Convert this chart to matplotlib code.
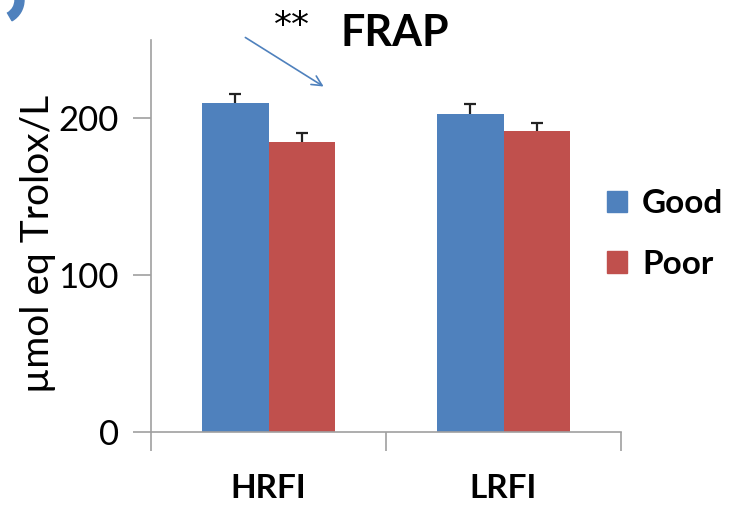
import matplotlib
matplotlib.use("Agg")
import matplotlib.pyplot as plt
from matplotlib.patches import Patch, Wedge
from matplotlib.transforms import IdentityTransform
import numpy as np

categories = ["HRFI", "LRFI"]
series_names = ["Good", "Poor"]
good_vals = [210, 203]
poor_vals = [185, 192]
good_err = [5.7, 6.0]
poor_err = [5.5, 5.0]
yticks = [0, 100, 200]

plt.rcParams['font.family'] = ['Lato', 'DejaVu Sans']

blue = "#4F81BD"
red = "#C0504D"

fig = plt.figure(figsize=(7.31, 5.05), dpi=100)
ax = fig.add_axes([151/731, 73/505, 470/731, 392/505])

x = np.arange(len(categories))
w = 0.285
ax.bar(x - w/2, good_vals, w, color=blue, zorder=2)
ax.bar(x + w/2, poor_vals, w, color=red, zorder=2)
for xs, vals, errs in [(x - w/2, good_vals, good_err), (x + w/2, poor_vals, poor_err)]:
    eb = ax.errorbar(xs, vals, yerr=[[0]*len(vals), errs], fmt='none', ecolor='#222222',
                     elinewidth=1.6, capsize=4, capthick=1.6, zorder=3)
    eb[1][0].set_visible(False)

ax.set_xlim(-0.5, 1.5)
ax.set_ylim(0, 250)
ax.set_yticks(yticks)
ax.set_yticklabels([str(v) for v in yticks], fontsize=25)
ax.set_xticks([-0.5, 0.5, 1.5])
ax.set_xticklabels([])
ax.set_xticks(x, minor=True)
ax.set_xticklabels(categories, minor=True, fontsize=24, fontweight='bold')
ax.tick_params(axis='x', which='minor', length=0, pad=30)
ax.tick_params(axis='x', which='major', length=14, color='#a0a0a0', width=1.2, direction='out')
ax.tick_params(axis='y', length=13, color='#a0a0a0', width=1.2, pad=10)
for s in ['top', 'right']:
    ax.spines[s].set_visible(False)
for s in ['left', 'bottom']:
    ax.spines[s].set_color('#a0a0a0')
    ax.spines[s].set_linewidth(1.2)

fig.text(38/731, 1 - 244/505, "µmol eq Trolox/L", fontsize=28, rotation=90,
         ha='center', va='center')

fig.text(395/731, 1 - 33/505, "FRAP", fontsize=31, fontweight='bold', ha='center', va='center')
fig.text(292/731, 1 - 26/505, "**", fontsize=26, ha='center', va='center', family='DejaVu Sans')
ax.annotate("", xy=(326/731, 1 - 88/505), xytext=(243/731, 1 - 36/505),
            xycoords='figure fraction', textcoords='figure fraction',
            arrowprops=dict(arrowstyle='->', color=blue, lw=1.2, mutation_scale=18))

handles = [Patch(color=blue), Patch(color=red)]
fig.legend(handles, series_names, loc='center left', bbox_to_anchor=(607/731, 1 - 234/505),
           frameon=False, prop={'size': 24, 'weight': 'bold'}, handlelength=0.6,
           handleheight=0.6, labelspacing=0.95, handletextpad=0.45, borderpad=0, borderaxespad=0)

fig.patches.append(Wedge((0, 505), 24, 300, 360, width=9, transform=IdentityTransform(), color=blue))

fig.savefig("out.png", dpi=100)
